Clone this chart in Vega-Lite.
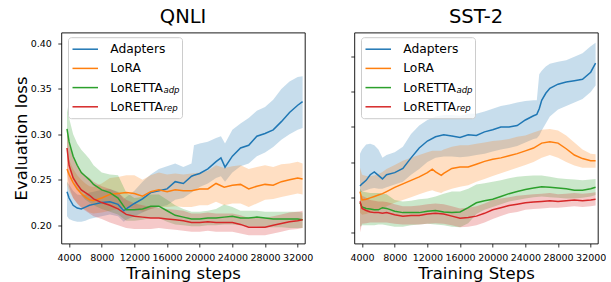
{
"$schema": "https://vega.github.io/schema/vega-lite/v6.json",
"background": "white",
"padding": {"left": 13.3, "top": 5.5, "right": 0, "bottom": 0},
"spacing": 49,
"bounds": "flush",
"config": {
  "font": "DejaVu Sans",
  "view": {"stroke": "#000000", "strokeWidth": 0.9},
  "axis": {"grid": false, "domain": false, "tickColor": "#000", "tickSize": 3.5, "tickWidth": 0.8, "labelColor": "#000", "labelFontSize": 9.5, "labelFont": "DejaVu Sans", "titleFont": "DejaVu Sans", "titleFontSize": 16.5, "titleFontWeight": "normal", "titleColor": "#000", "labelFlush": false, "labelOverlap": false},
  "title": {"fontSize": 19.5, "fontWeight": "normal", "font": "DejaVu Sans", "color": "#000", "anchor": "middle", "frame": "group", "baseline": "alphabetic", "offset": 5.3},
  "legend": {"labelFont": "DejaVu Sans", "labelColor": "#000"}
},
"datasets": {
"qnli": [
{"s":"Adapters","x":3750,"y":0.237,"lo":0.210,"hi":0.248},
{"s":"Adapters","x":4000,"y":0.230,"lo":0.207,"hi":0.245},
{"s":"Adapters","x":4500,"y":0.222,"lo":0.205,"hi":0.238},
{"s":"Adapters","x":5000,"y":0.219,"lo":0.204,"hi":0.234},
{"s":"Adapters","x":5500,"y":0.218,"lo":0.204,"hi":0.233},
{"s":"Adapters","x":6000,"y":0.220,"lo":0.205,"hi":0.234},
{"s":"Adapters","x":6500,"y":0.222,"lo":0.207,"hi":0.236},
{"s":"Adapters","x":7000,"y":0.223,"lo":0.208,"hi":0.237},
{"s":"Adapters","x":8000,"y":0.225,"lo":0.210,"hi":0.239},
{"s":"Adapters","x":9000,"y":0.226,"lo":0.212,"hi":0.240},
{"s":"Adapters","x":10000,"y":0.223,"lo":0.210,"hi":0.237},
{"s":"Adapters","x":10700,"y":0.216,"lo":0.204,"hi":0.229},
{"s":"Adapters","x":11000,"y":0.218,"lo":0.206,"hi":0.231},
{"s":"Adapters","x":12000,"y":0.224,"lo":0.210,"hi":0.238},
{"s":"Adapters","x":13000,"y":0.229,"lo":0.214,"hi":0.248},
{"s":"Adapters","x":14000,"y":0.236,"lo":0.218,"hi":0.256},
{"s":"Adapters","x":15000,"y":0.238,"lo":0.220,"hi":0.262},
{"s":"Adapters","x":16000,"y":0.240,"lo":0.222,"hi":0.265},
{"s":"Adapters","x":17000,"y":0.248,"lo":0.228,"hi":0.268},
{"s":"Adapters","x":18000,"y":0.246,"lo":0.230,"hi":0.264},
{"s":"Adapters","x":19000,"y":0.254,"lo":0.236,"hi":0.268},
{"s":"Adapters","x":19300,"y":0.255,"lo":0.238,"hi":0.288},
{"s":"Adapters","x":20000,"y":0.257,"lo":0.242,"hi":0.290},
{"s":"Adapters","x":21000,"y":0.262,"lo":0.246,"hi":0.292},
{"s":"Adapters","x":22000,"y":0.270,"lo":0.252,"hi":0.296},
{"s":"Adapters","x":22600,"y":0.274,"lo":0.254,"hi":0.298},
{"s":"Adapters","x":23100,"y":0.264,"lo":0.248,"hi":0.290},
{"s":"Adapters","x":24000,"y":0.276,"lo":0.258,"hi":0.305},
{"s":"Adapters","x":25000,"y":0.285,"lo":0.265,"hi":0.312},
{"s":"Adapters","x":26000,"y":0.288,"lo":0.268,"hi":0.318},
{"s":"Adapters","x":27000,"y":0.298,"lo":0.276,"hi":0.326},
{"s":"Adapters","x":28000,"y":0.301,"lo":0.280,"hi":0.330},
{"s":"Adapters","x":29000,"y":0.305,"lo":0.286,"hi":0.338},
{"s":"Adapters","x":30000,"y":0.314,"lo":0.294,"hi":0.350},
{"s":"Adapters","x":31000,"y":0.324,"lo":0.300,"hi":0.358},
{"s":"Adapters","x":32000,"y":0.332,"lo":0.305,"hi":0.363},
{"s":"Adapters","x":32600,"y":0.336,"lo":0.307,"hi":0.364},
{"s":"LoRA","x":3750,"y":0.262,"lo":0.245,"hi":0.278},
{"s":"LoRA","x":4000,"y":0.256,"lo":0.238,"hi":0.272},
{"s":"LoRA","x":4500,"y":0.247,"lo":0.230,"hi":0.262},
{"s":"LoRA","x":5000,"y":0.240,"lo":0.224,"hi":0.255},
{"s":"LoRA","x":5500,"y":0.235,"lo":0.220,"hi":0.250},
{"s":"LoRA","x":6000,"y":0.231,"lo":0.217,"hi":0.246},
{"s":"LoRA","x":6500,"y":0.228,"lo":0.214,"hi":0.243},
{"s":"LoRA","x":7000,"y":0.227,"lo":0.213,"hi":0.242},
{"s":"LoRA","x":8000,"y":0.230,"lo":0.214,"hi":0.246},
{"s":"LoRA","x":9000,"y":0.234,"lo":0.216,"hi":0.252},
{"s":"LoRA","x":10000,"y":0.235,"lo":0.218,"hi":0.253},
{"s":"LoRA","x":11000,"y":0.236,"lo":0.220,"hi":0.255},
{"s":"LoRA","x":12000,"y":0.235,"lo":0.218,"hi":0.255},
{"s":"LoRA","x":13000,"y":0.232,"lo":0.215,"hi":0.250},
{"s":"LoRA","x":14000,"y":0.237,"lo":0.218,"hi":0.255},
{"s":"LoRA","x":15000,"y":0.239,"lo":0.220,"hi":0.258},
{"s":"LoRA","x":16000,"y":0.237,"lo":0.220,"hi":0.256},
{"s":"LoRA","x":17000,"y":0.239,"lo":0.221,"hi":0.257},
{"s":"LoRA","x":18000,"y":0.238,"lo":0.220,"hi":0.256},
{"s":"LoRA","x":19000,"y":0.238,"lo":0.220,"hi":0.257},
{"s":"LoRA","x":20000,"y":0.240,"lo":0.222,"hi":0.258},
{"s":"LoRA","x":21000,"y":0.240,"lo":0.222,"hi":0.260},
{"s":"LoRA","x":22000,"y":0.246,"lo":0.226,"hi":0.266},
{"s":"LoRA","x":23000,"y":0.242,"lo":0.222,"hi":0.263},
{"s":"LoRA","x":24000,"y":0.244,"lo":0.224,"hi":0.265},
{"s":"LoRA","x":25000,"y":0.245,"lo":0.224,"hi":0.266},
{"s":"LoRA","x":26000,"y":0.240,"lo":0.220,"hi":0.262},
{"s":"LoRA","x":27000,"y":0.243,"lo":0.224,"hi":0.264},
{"s":"LoRA","x":28000,"y":0.245,"lo":0.228,"hi":0.266},
{"s":"LoRA","x":29000,"y":0.244,"lo":0.229,"hi":0.264},
{"s":"LoRA","x":30000,"y":0.248,"lo":0.231,"hi":0.267},
{"s":"LoRA","x":31000,"y":0.250,"lo":0.233,"hi":0.268},
{"s":"LoRA","x":32000,"y":0.252,"lo":0.235,"hi":0.270},
{"s":"LoRA","x":32600,"y":0.251,"lo":0.234,"hi":0.268},
{"s":"LoRETTA_adp","x":3750,"y":0.306,"lo":0.280,"hi":0.330},
{"s":"LoRETTA_adp","x":4000,"y":0.292,"lo":0.268,"hi":0.318},
{"s":"LoRETTA_adp","x":4500,"y":0.276,"lo":0.250,"hi":0.300},
{"s":"LoRETTA_adp","x":5000,"y":0.266,"lo":0.240,"hi":0.290},
{"s":"LoRETTA_adp","x":5500,"y":0.258,"lo":0.233,"hi":0.283},
{"s":"LoRETTA_adp","x":6000,"y":0.254,"lo":0.228,"hi":0.278},
{"s":"LoRETTA_adp","x":6500,"y":0.250,"lo":0.225,"hi":0.273},
{"s":"LoRETTA_adp","x":7000,"y":0.245,"lo":0.222,"hi":0.266},
{"s":"LoRETTA_adp","x":8000,"y":0.239,"lo":0.218,"hi":0.258},
{"s":"LoRETTA_adp","x":9000,"y":0.236,"lo":0.215,"hi":0.256},
{"s":"LoRETTA_adp","x":10000,"y":0.230,"lo":0.212,"hi":0.255},
{"s":"LoRETTA_adp","x":11000,"y":0.217,"lo":0.205,"hi":0.236},
{"s":"LoRETTA_adp","x":12000,"y":0.217,"lo":0.205,"hi":0.230},
{"s":"LoRETTA_adp","x":13000,"y":0.218,"lo":0.206,"hi":0.231},
{"s":"LoRETTA_adp","x":14000,"y":0.221,"lo":0.208,"hi":0.234},
{"s":"LoRETTA_adp","x":15000,"y":0.221,"lo":0.208,"hi":0.234},
{"s":"LoRETTA_adp","x":16000,"y":0.216,"lo":0.204,"hi":0.228},
{"s":"LoRETTA_adp","x":17000,"y":0.211,"lo":0.201,"hi":0.222},
{"s":"LoRETTA_adp","x":18000,"y":0.209,"lo":0.200,"hi":0.218},
{"s":"LoRETTA_adp","x":19000,"y":0.207,"lo":0.199,"hi":0.215},
{"s":"LoRETTA_adp","x":20000,"y":0.207,"lo":0.199,"hi":0.215},
{"s":"LoRETTA_adp","x":21000,"y":0.208,"lo":0.200,"hi":0.216},
{"s":"LoRETTA_adp","x":22000,"y":0.208,"lo":0.200,"hi":0.218},
{"s":"LoRETTA_adp","x":23000,"y":0.209,"lo":0.201,"hi":0.223},
{"s":"LoRETTA_adp","x":24000,"y":0.210,"lo":0.201,"hi":0.220},
{"s":"LoRETTA_adp","x":25000,"y":0.208,"lo":0.200,"hi":0.216},
{"s":"LoRETTA_adp","x":26000,"y":0.208,"lo":0.199,"hi":0.216},
{"s":"LoRETTA_adp","x":27000,"y":0.209,"lo":0.199,"hi":0.216},
{"s":"LoRETTA_adp","x":28000,"y":0.208,"lo":0.198,"hi":0.215},
{"s":"LoRETTA_adp","x":29000,"y":0.207,"lo":0.198,"hi":0.215},
{"s":"LoRETTA_adp","x":30000,"y":0.207,"lo":0.198,"hi":0.215},
{"s":"LoRETTA_adp","x":31000,"y":0.207,"lo":0.197,"hi":0.215},
{"s":"LoRETTA_adp","x":32000,"y":0.207,"lo":0.197,"hi":0.215},
{"s":"LoRETTA_adp","x":32600,"y":0.206,"lo":0.197,"hi":0.214},
{"s":"LoRETTA_rep","x":3750,"y":0.285,"lo":0.260,"hi":0.305},
{"s":"LoRETTA_rep","x":4000,"y":0.266,"lo":0.242,"hi":0.290},
{"s":"LoRETTA_rep","x":4500,"y":0.252,"lo":0.230,"hi":0.275},
{"s":"LoRETTA_rep","x":5000,"y":0.245,"lo":0.224,"hi":0.266},
{"s":"LoRETTA_rep","x":5500,"y":0.239,"lo":0.219,"hi":0.259},
{"s":"LoRETTA_rep","x":6000,"y":0.236,"lo":0.216,"hi":0.255},
{"s":"LoRETTA_rep","x":6500,"y":0.233,"lo":0.213,"hi":0.252},
{"s":"LoRETTA_rep","x":7000,"y":0.229,"lo":0.210,"hi":0.248},
{"s":"LoRETTA_rep","x":8000,"y":0.225,"lo":0.207,"hi":0.243},
{"s":"LoRETTA_rep","x":9000,"y":0.222,"lo":0.203,"hi":0.240},
{"s":"LoRETTA_rep","x":10000,"y":0.218,"lo":0.200,"hi":0.236},
{"s":"LoRETTA_rep","x":11000,"y":0.212,"lo":0.197,"hi":0.228},
{"s":"LoRETTA_rep","x":12000,"y":0.210,"lo":0.196,"hi":0.224},
{"s":"LoRETTA_rep","x":13000,"y":0.209,"lo":0.196,"hi":0.222},
{"s":"LoRETTA_rep","x":14000,"y":0.208,"lo":0.196,"hi":0.220},
{"s":"LoRETTA_rep","x":15000,"y":0.208,"lo":0.197,"hi":0.219},
{"s":"LoRETTA_rep","x":16000,"y":0.207,"lo":0.196,"hi":0.218},
{"s":"LoRETTA_rep","x":17000,"y":0.206,"lo":0.195,"hi":0.217},
{"s":"LoRETTA_rep","x":18000,"y":0.205,"lo":0.194,"hi":0.216},
{"s":"LoRETTA_rep","x":19000,"y":0.203,"lo":0.193,"hi":0.213},
{"s":"LoRETTA_rep","x":20000,"y":0.203,"lo":0.193,"hi":0.213},
{"s":"LoRETTA_rep","x":21000,"y":0.204,"lo":0.194,"hi":0.214},
{"s":"LoRETTA_rep","x":22000,"y":0.203,"lo":0.193,"hi":0.213},
{"s":"LoRETTA_rep","x":23000,"y":0.203,"lo":0.193,"hi":0.213},
{"s":"LoRETTA_rep","x":24000,"y":0.203,"lo":0.193,"hi":0.213},
{"s":"LoRETTA_rep","x":25000,"y":0.201,"lo":0.191,"hi":0.211},
{"s":"LoRETTA_rep","x":26000,"y":0.198,"lo":0.189,"hi":0.208},
{"s":"LoRETTA_rep","x":27000,"y":0.198,"lo":0.189,"hi":0.208},
{"s":"LoRETTA_rep","x":28000,"y":0.198,"lo":0.189,"hi":0.208},
{"s":"LoRETTA_rep","x":29000,"y":0.200,"lo":0.191,"hi":0.210},
{"s":"LoRETTA_rep","x":30000,"y":0.202,"lo":0.193,"hi":0.212},
{"s":"LoRETTA_rep","x":31000,"y":0.204,"lo":0.195,"hi":0.214},
{"s":"LoRETTA_rep","x":32000,"y":0.205,"lo":0.196,"hi":0.215},
{"s":"LoRETTA_rep","x":32600,"y":0.206,"lo":0.197,"hi":0.216}
],
"sst2": [
{"s":"Adapters","x":3750,"y":0.266,"lo":0.255,"hi":0.312},
{"s":"Adapters","x":4000,"y":0.269,"lo":0.258,"hi":0.318},
{"s":"Adapters","x":4500,"y":0.274,"lo":0.260,"hi":0.325},
{"s":"Adapters","x":5000,"y":0.282,"lo":0.262,"hi":0.326},
{"s":"Adapters","x":5500,"y":0.286,"lo":0.263,"hi":0.324},
{"s":"Adapters","x":6000,"y":0.281,"lo":0.262,"hi":0.318},
{"s":"Adapters","x":6500,"y":0.276,"lo":0.262,"hi":0.306},
{"s":"Adapters","x":7000,"y":0.282,"lo":0.264,"hi":0.310},
{"s":"Adapters","x":8000,"y":0.285,"lo":0.268,"hi":0.314},
{"s":"Adapters","x":9000,"y":0.291,"lo":0.272,"hi":0.322},
{"s":"Adapters","x":10000,"y":0.306,"lo":0.282,"hi":0.340},
{"s":"Adapters","x":11000,"y":0.320,"lo":0.290,"hi":0.352},
{"s":"Adapters","x":12000,"y":0.330,"lo":0.300,"hi":0.360},
{"s":"Adapters","x":13000,"y":0.336,"lo":0.306,"hi":0.365},
{"s":"Adapters","x":14000,"y":0.339,"lo":0.308,"hi":0.367},
{"s":"Adapters","x":15000,"y":0.337,"lo":0.308,"hi":0.367},
{"s":"Adapters","x":16000,"y":0.335,"lo":0.307,"hi":0.366},
{"s":"Adapters","x":17000,"y":0.339,"lo":0.308,"hi":0.369},
{"s":"Adapters","x":18000,"y":0.338,"lo":0.310,"hi":0.369},
{"s":"Adapters","x":19000,"y":0.343,"lo":0.312,"hi":0.372},
{"s":"Adapters","x":20000,"y":0.346,"lo":0.315,"hi":0.376},
{"s":"Adapters","x":21000,"y":0.350,"lo":0.318,"hi":0.380},
{"s":"Adapters","x":22000,"y":0.350,"lo":0.320,"hi":0.382},
{"s":"Adapters","x":23000,"y":0.352,"lo":0.323,"hi":0.385},
{"s":"Adapters","x":24000,"y":0.360,"lo":0.328,"hi":0.387},
{"s":"Adapters","x":25000,"y":0.366,"lo":0.333,"hi":0.388},
{"s":"Adapters","x":25400,"y":0.368,"lo":0.334,"hi":0.388},
{"s":"Adapters","x":25700,"y":0.376,"lo":0.338,"hi":0.425},
{"s":"Adapters","x":26000,"y":0.388,"lo":0.345,"hi":0.430},
{"s":"Adapters","x":26500,"y":0.398,"lo":0.355,"hi":0.436},
{"s":"Adapters","x":27000,"y":0.405,"lo":0.365,"hi":0.440},
{"s":"Adapters","x":28000,"y":0.411,"lo":0.375,"hi":0.443},
{"s":"Adapters","x":29000,"y":0.414,"lo":0.380,"hi":0.445},
{"s":"Adapters","x":30000,"y":0.416,"lo":0.385,"hi":0.450},
{"s":"Adapters","x":31000,"y":0.418,"lo":0.390,"hi":0.455},
{"s":"Adapters","x":32000,"y":0.428,"lo":0.400,"hi":0.465},
{"s":"Adapters","x":32600,"y":0.441,"lo":0.409,"hi":0.470},
{"s":"LoRA","x":3750,"y":0.258,"lo":0.228,"hi":0.292},
{"s":"LoRA","x":4000,"y":0.246,"lo":0.225,"hi":0.282},
{"s":"LoRA","x":4500,"y":0.247,"lo":0.226,"hi":0.280},
{"s":"LoRA","x":5000,"y":0.249,"lo":0.228,"hi":0.280},
{"s":"LoRA","x":5500,"y":0.251,"lo":0.230,"hi":0.281},
{"s":"LoRA","x":6000,"y":0.253,"lo":0.232,"hi":0.283},
{"s":"LoRA","x":6500,"y":0.255,"lo":0.234,"hi":0.286},
{"s":"LoRA","x":7000,"y":0.258,"lo":0.237,"hi":0.290},
{"s":"LoRA","x":8000,"y":0.264,"lo":0.242,"hi":0.296},
{"s":"LoRA","x":9000,"y":0.269,"lo":0.246,"hi":0.302},
{"s":"LoRA","x":10000,"y":0.274,"lo":0.250,"hi":0.306},
{"s":"LoRA","x":11000,"y":0.279,"lo":0.254,"hi":0.310},
{"s":"LoRA","x":12000,"y":0.285,"lo":0.258,"hi":0.314},
{"s":"LoRA","x":12600,"y":0.290,"lo":0.260,"hi":0.316},
{"s":"LoRA","x":13000,"y":0.286,"lo":0.258,"hi":0.316},
{"s":"LoRA","x":13700,"y":0.281,"lo":0.256,"hi":0.316},
{"s":"LoRA","x":14000,"y":0.284,"lo":0.258,"hi":0.318},
{"s":"LoRA","x":15000,"y":0.291,"lo":0.262,"hi":0.322},
{"s":"LoRA","x":16000,"y":0.293,"lo":0.265,"hi":0.324},
{"s":"LoRA","x":17000,"y":0.293,"lo":0.267,"hi":0.324},
{"s":"LoRA","x":18000,"y":0.297,"lo":0.272,"hi":0.326},
{"s":"LoRA","x":19000,"y":0.301,"lo":0.276,"hi":0.328},
{"s":"LoRA","x":20000,"y":0.304,"lo":0.280,"hi":0.330},
{"s":"LoRA","x":21000,"y":0.306,"lo":0.284,"hi":0.331},
{"s":"LoRA","x":22000,"y":0.309,"lo":0.288,"hi":0.333},
{"s":"LoRA","x":23000,"y":0.312,"lo":0.292,"hi":0.336},
{"s":"LoRA","x":24000,"y":0.316,"lo":0.296,"hi":0.338},
{"s":"LoRA","x":25000,"y":0.320,"lo":0.300,"hi":0.342},
{"s":"LoRA","x":26000,"y":0.327,"lo":0.306,"hi":0.346},
{"s":"LoRA","x":27000,"y":0.329,"lo":0.310,"hi":0.347},
{"s":"LoRA","x":28000,"y":0.327,"lo":0.306,"hi":0.345},
{"s":"LoRA","x":29000,"y":0.319,"lo":0.300,"hi":0.338},
{"s":"LoRA","x":30000,"y":0.310,"lo":0.295,"hi":0.328},
{"s":"LoRA","x":31000,"y":0.305,"lo":0.292,"hi":0.318},
{"s":"LoRA","x":32000,"y":0.302,"lo":0.292,"hi":0.312},
{"s":"LoRA","x":32600,"y":0.302,"lo":0.292,"hi":0.311},
{"s":"LoRETTA_adp","x":3750,"y":0.242,"lo":0.208,"hi":0.262},
{"s":"LoRETTA_adp","x":4000,"y":0.236,"lo":0.210,"hi":0.258},
{"s":"LoRETTA_adp","x":4500,"y":0.234,"lo":0.210,"hi":0.257},
{"s":"LoRETTA_adp","x":5000,"y":0.233,"lo":0.210,"hi":0.256},
{"s":"LoRETTA_adp","x":5500,"y":0.232,"lo":0.210,"hi":0.256},
{"s":"LoRETTA_adp","x":6000,"y":0.232,"lo":0.211,"hi":0.256},
{"s":"LoRETTA_adp","x":6500,"y":0.235,"lo":0.211,"hi":0.255},
{"s":"LoRETTA_adp","x":7000,"y":0.234,"lo":0.210,"hi":0.254},
{"s":"LoRETTA_adp","x":8000,"y":0.230,"lo":0.208,"hi":0.246},
{"s":"LoRETTA_adp","x":9000,"y":0.228,"lo":0.208,"hi":0.244},
{"s":"LoRETTA_adp","x":10000,"y":0.228,"lo":0.210,"hi":0.245},
{"s":"LoRETTA_adp","x":11000,"y":0.228,"lo":0.211,"hi":0.247},
{"s":"LoRETTA_adp","x":12000,"y":0.230,"lo":0.212,"hi":0.248},
{"s":"LoRETTA_adp","x":13000,"y":0.231,"lo":0.211,"hi":0.251},
{"s":"LoRETTA_adp","x":14000,"y":0.229,"lo":0.210,"hi":0.255},
{"s":"LoRETTA_adp","x":15000,"y":0.228,"lo":0.208,"hi":0.258},
{"s":"LoRETTA_adp","x":16000,"y":0.229,"lo":0.207,"hi":0.258},
{"s":"LoRETTA_adp","x":17000,"y":0.235,"lo":0.213,"hi":0.262},
{"s":"LoRETTA_adp","x":18000,"y":0.242,"lo":0.226,"hi":0.268},
{"s":"LoRETTA_adp","x":19000,"y":0.245,"lo":0.232,"hi":0.270},
{"s":"LoRETTA_adp","x":20000,"y":0.247,"lo":0.236,"hi":0.272},
{"s":"LoRETTA_adp","x":21000,"y":0.251,"lo":0.240,"hi":0.274},
{"s":"LoRETTA_adp","x":22000,"y":0.255,"lo":0.244,"hi":0.277},
{"s":"LoRETTA_adp","x":23000,"y":0.258,"lo":0.246,"hi":0.279},
{"s":"LoRETTA_adp","x":24000,"y":0.261,"lo":0.248,"hi":0.280},
{"s":"LoRETTA_adp","x":25000,"y":0.263,"lo":0.250,"hi":0.281},
{"s":"LoRETTA_adp","x":26000,"y":0.265,"lo":0.251,"hi":0.281},
{"s":"LoRETTA_adp","x":27000,"y":0.264,"lo":0.250,"hi":0.279},
{"s":"LoRETTA_adp","x":28000,"y":0.263,"lo":0.249,"hi":0.277},
{"s":"LoRETTA_adp","x":29000,"y":0.262,"lo":0.248,"hi":0.276},
{"s":"LoRETTA_adp","x":30000,"y":0.260,"lo":0.248,"hi":0.275},
{"s":"LoRETTA_adp","x":31000,"y":0.260,"lo":0.249,"hi":0.274},
{"s":"LoRETTA_adp","x":32000,"y":0.262,"lo":0.251,"hi":0.275},
{"s":"LoRETTA_adp","x":32600,"y":0.264,"lo":0.253,"hi":0.276},
{"s":"LoRETTA_rep","x":3750,"y":0.244,"lo":0.200,"hi":0.258},
{"s":"LoRETTA_rep","x":4000,"y":0.234,"lo":0.212,"hi":0.252},
{"s":"LoRETTA_rep","x":4500,"y":0.231,"lo":0.213,"hi":0.249},
{"s":"LoRETTA_rep","x":5000,"y":0.229,"lo":0.214,"hi":0.246},
{"s":"LoRETTA_rep","x":5500,"y":0.228,"lo":0.214,"hi":0.245},
{"s":"LoRETTA_rep","x":6000,"y":0.228,"lo":0.214,"hi":0.244},
{"s":"LoRETTA_rep","x":6500,"y":0.227,"lo":0.214,"hi":0.244},
{"s":"LoRETTA_rep","x":7000,"y":0.228,"lo":0.214,"hi":0.243},
{"s":"LoRETTA_rep","x":8000,"y":0.225,"lo":0.212,"hi":0.240},
{"s":"LoRETTA_rep","x":9000,"y":0.223,"lo":0.211,"hi":0.237},
{"s":"LoRETTA_rep","x":10000,"y":0.224,"lo":0.211,"hi":0.237},
{"s":"LoRETTA_rep","x":11000,"y":0.224,"lo":0.211,"hi":0.238},
{"s":"LoRETTA_rep","x":12000,"y":0.226,"lo":0.212,"hi":0.240},
{"s":"LoRETTA_rep","x":13000,"y":0.227,"lo":0.213,"hi":0.241},
{"s":"LoRETTA_rep","x":14000,"y":0.226,"lo":0.212,"hi":0.240},
{"s":"LoRETTA_rep","x":15000,"y":0.223,"lo":0.210,"hi":0.237},
{"s":"LoRETTA_rep","x":16000,"y":0.220,"lo":0.207,"hi":0.234},
{"s":"LoRETTA_rep","x":17000,"y":0.221,"lo":0.208,"hi":0.235},
{"s":"LoRETTA_rep","x":18000,"y":0.223,"lo":0.210,"hi":0.237},
{"s":"LoRETTA_rep","x":19000,"y":0.227,"lo":0.214,"hi":0.241},
{"s":"LoRETTA_rep","x":20000,"y":0.232,"lo":0.219,"hi":0.246},
{"s":"LoRETTA_rep","x":21000,"y":0.235,"lo":0.223,"hi":0.248},
{"s":"LoRETTA_rep","x":22000,"y":0.238,"lo":0.227,"hi":0.250},
{"s":"LoRETTA_rep","x":23000,"y":0.240,"lo":0.229,"hi":0.252},
{"s":"LoRETTA_rep","x":24000,"y":0.242,"lo":0.232,"hi":0.253},
{"s":"LoRETTA_rep","x":25000,"y":0.243,"lo":0.233,"hi":0.254},
{"s":"LoRETTA_rep","x":26000,"y":0.244,"lo":0.234,"hi":0.255},
{"s":"LoRETTA_rep","x":27000,"y":0.245,"lo":0.235,"hi":0.256},
{"s":"LoRETTA_rep","x":28000,"y":0.244,"lo":0.235,"hi":0.254},
{"s":"LoRETTA_rep","x":29000,"y":0.245,"lo":0.236,"hi":0.255},
{"s":"LoRETTA_rep","x":30000,"y":0.246,"lo":0.237,"hi":0.256},
{"s":"LoRETTA_rep","x":31000,"y":0.245,"lo":0.236,"hi":0.255},
{"s":"LoRETTA_rep","x":32000,"y":0.246,"lo":0.237,"hi":0.256},
{"s":"LoRETTA_rep","x":32600,"y":0.247,"lo":0.238,"hi":0.257}
]
},
"hconcat": [
{
  "title": "QNLI",
  "width": 243.5,
  "height": 211,
  "data": {"name": "qnli"},
  "encoding": {
    "x": {"field": "x", "type": "quantitative", "scale": {"domain": [3050, 32870], "nice": false, "zero": false},
          "axis": {"values": [4000, 8000, 12000, 16000, 20000, 24000, 28000, 32000], "format": "d", "title": "Training steps", "labelBaseline": "alphabetic", "labelPadding": 14, "titleBaseline": "alphabetic", "titleY": 35.3}}
  },
  "layer": [
    {"mark": {"type": "area", "opacity": 0.25},
     "encoding": {
       "y": {"field": "lo", "type": "quantitative", "scale": {"domain": [0.180, 0.412], "nice": false, "zero": false},
             "axis": {"values": [0.2, 0.25, 0.3, 0.35, 0.4], "format": ".2f", "title": "Evaluation loss", "labelPadding": 6.5, "titleX": -34.3, "titleBaseline": "alphabetic"}},
       "y2": {"field": "hi"},
       "fill": {"field": "s", "type": "nominal", "scale": {"domain": ["LoRETTA_rep", "LoRETTA_adp", "LoRA", "Adapters"], "range": ["#d62728", "#2ca02c", "#ff7f0e", "#1f77b4"]}, "legend": null}
     }},
    {"mark": {"type": "line", "strokeWidth": 1.5},
     "encoding": {
       "y": {"field": "y", "type": "quantitative", "scale": {"domain": [0.180, 0.412], "nice": false, "zero": false},
             "axis": {"values": [0.2, 0.25, 0.3, 0.35, 0.4], "format": ".2f", "title": "Evaluation loss", "labelPadding": 6.5, "titleX": -34.3, "titleBaseline": "alphabetic"}},
       "color": {"field": "s", "type": "nominal", "scale": {"domain": ["Adapters", "LoRA", "LoRETTA_adp", "LoRETTA_rep"], "range": ["#1f77b4", "#ff7f0e", "#2ca02c", "#d62728"]},
                 "legend": {"orient": "none", "legendX": 6.7, "legendY": 4.7, "title": " ", "titleOrient": "right", "titlePadding": 12, "padding": 4.5, "fillColor": "rgba(255,255,255,0.8)", "strokeColor": "#cccccc", "cornerRadius": 3, "symbolType": "M-2,0H2", "symbolSize": 162.6, "symbolOffset": 5.25, "symbolStrokeWidth": 1.5, "labelFontSize": 12.3, "labelOffset": 17.5, "rowPadding": 5.2, "labelExpr": "slice(datum.label, 0, 7) == 'LoRETTA' ? 'LoRETTA' : datum.label"}}
     }},
    {"transform": [{"filter": "indexof(datum.s, '_') > 0"}],
     "mark": {"type": "line", "color": "transparent", "strokeWidth": 0},
     "encoding": {
       "y": {"field": "y", "type": "quantitative", "scale": {"domain": [0.180, 0.412], "nice": false, "zero": false},
             "axis": {"values": [0.2, 0.25, 0.3, 0.35, 0.4], "format": ".2f", "title": "Evaluation loss", "labelPadding": 6.5, "titleX": -34.3, "titleBaseline": "alphabetic"}},
       "opacity": {"field": "s", "type": "nominal", "scale": {"domain": ["LoRETTA_adp", "LoRETTA_rep"], "range": [1, 1]},
                   "legend": {"orient": "none", "legendX": 93.5, "legendY": 55.8, "title": null, "padding": 0, "symbolSize": 1, "symbolOpacity": 0, "symbolStrokeWidth": 0, "labelOffset": 0, "labelFontSize": 8.6, "labelFontStyle": "italic", "labelBaseline": "alphabetic", "rowPadding": 9.2, "zindex": 1, "labelExpr": "slice(datum.label, 8)"}}
     }}
  ]
},
{
  "title": "SST-2",
  "width": 243.5,
  "height": 211,
  "data": {"name": "sst2"},
  "encoding": {
    "x": {"field": "x", "type": "quantitative", "scale": {"domain": [3050, 32870], "nice": false, "zero": false},
          "axis": {"values": [4000, 8000, 12000, 16000, 20000, 24000, 28000, 32000], "format": "d", "title": "Training Steps", "labelBaseline": "alphabetic", "labelPadding": 14, "titleBaseline": "alphabetic", "titleY": 35.3}}
  },
  "layer": [
    {"mark": {"type": "area", "opacity": 0.25},
     "encoding": {
       "y": {"field": "lo", "type": "quantitative", "scale": {"domain": [0.184, 0.4846], "nice": false, "zero": false},
             "axis": {"values": [0.2, 0.25, 0.3, 0.35, 0.4, 0.45], "labels": false, "title": null}},
       "y2": {"field": "hi"},
       "fill": {"field": "s", "type": "nominal", "scale": {"domain": ["LoRETTA_rep", "LoRETTA_adp", "LoRA", "Adapters"], "range": ["#d62728", "#2ca02c", "#ff7f0e", "#1f77b4"]}, "legend": null}
     }},
    {"mark": {"type": "line", "strokeWidth": 1.5},
     "encoding": {
       "y": {"field": "y", "type": "quantitative", "scale": {"domain": [0.184, 0.4846], "nice": false, "zero": false},
             "axis": {"values": [0.2, 0.25, 0.3, 0.35, 0.4, 0.45], "labels": false, "title": null}},
       "color": {"field": "s", "type": "nominal", "scale": {"domain": ["Adapters", "LoRA", "LoRETTA_adp", "LoRETTA_rep"], "range": ["#1f77b4", "#ff7f0e", "#2ca02c", "#d62728"]},
                 "legend": {"orient": "none", "legendX": 6.7, "legendY": 4.7, "title": " ", "titleOrient": "right", "titlePadding": 12, "padding": 4.5, "fillColor": "rgba(255,255,255,0.8)", "strokeColor": "#cccccc", "cornerRadius": 3, "symbolType": "M-2,0H2", "symbolSize": 162.6, "symbolOffset": 5.25, "symbolStrokeWidth": 1.5, "labelFontSize": 12.3, "labelOffset": 17.5, "rowPadding": 5.2, "labelExpr": "slice(datum.label, 0, 7) == 'LoRETTA' ? 'LoRETTA' : datum.label"}}
     }},
    {"transform": [{"filter": "indexof(datum.s, '_') > 0"}],
     "mark": {"type": "line", "color": "transparent", "strokeWidth": 0},
     "encoding": {
       "y": {"field": "y", "type": "quantitative", "scale": {"domain": [0.184, 0.4846], "nice": false, "zero": false},
             "axis": {"values": [0.2, 0.25, 0.3, 0.35, 0.4, 0.45], "labels": false, "title": null}},
       "opacity": {"field": "s", "type": "nominal", "scale": {"domain": ["LoRETTA_adp", "LoRETTA_rep"], "range": [1, 1]},
                   "legend": {"orient": "none", "legendX": 93.5, "legendY": 55.8, "title": null, "padding": 0, "symbolSize": 1, "symbolOpacity": 0, "symbolStrokeWidth": 0, "labelOffset": 0, "labelFontSize": 8.6, "labelFontStyle": "italic", "labelBaseline": "alphabetic", "rowPadding": 9.2, "zindex": 1, "labelExpr": "slice(datum.label, 8)"}}
     }}
  ]
}
],
"resolve": {
  "scale": {"x": "independent", "y": "independent", "color": "independent", "fill": "independent", "opacity": "independent"},
  "legend": {"color": "independent", "opacity": "independent"}
}
}
